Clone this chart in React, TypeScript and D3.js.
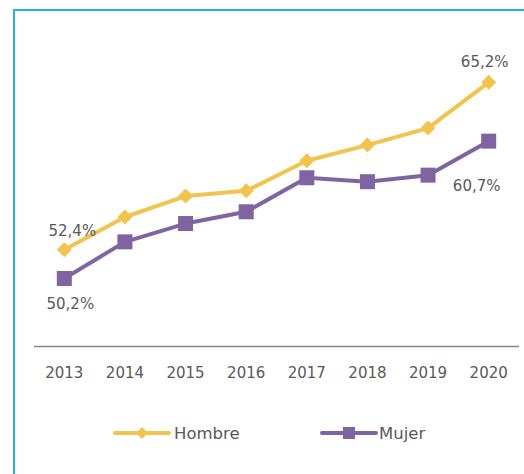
import React from "react";
import * as d3 from "d3";

const years = ["2013", "2014", "2015", "2016", "2017", "2018", "2019", "2020"];
const hombre = [52.4, 54.9, 56.5, 56.9, 59.2, 60.4, 61.7, 65.2];
const mujer = [50.2, 53.0, 54.4, 55.3, 57.9, 57.6, 58.1, 60.7];
const seriesNames = ["Hombre", "Mujer"];
const yDomain = [45, 70];

const W = 524;
const H = 474;
const YELLOW = "#F2C44E";
const PURPLE = "#8064A2";
const TEXT = "#595959";
const FONT = "'DejaVu Sans', sans-serif";

const fmt = (v: number) => v.toFixed(1).replace(".", ",") + "%";

export default function App() {
  const x = d3.scaleBand<string>().domain(years).range([34, 519]);
  const y = d3.scaleLinear().domain(yDomain).range([346.5, 19.5]);
  const cx = (yr: string) => (x(yr) as number) + x.bandwidth() / 2;

  const line = d3
    .line<number>()
    .x((_, i) => cx(years[i]))
    .y((d) => y(d));

  const diamond = (px: number, py: number, r: number) =>
    `M${px},${py - r}L${px + r},${py}L${px},${py + r}L${px - r},${py}Z`;

  const first = years[0];
  const last = years[years.length - 1];
  const n = years.length - 1;

  return (
    <svg
      width={W}
      height={H}
      style={{ position: "absolute", left: 0, top: 0, background: "#fff" }}
      fontFamily={FONT}
    >
      {/* frame */}
      <path d={`M14,${H}L14,10L${W},10`} fill="none" stroke="#1FB3EC" strokeWidth={2} />

      {/* axis */}
      <line x1={34} x2={519} y1={y(yDomain[0])} y2={y(yDomain[0])} stroke="#868686" strokeWidth={1.5} />
      {years.map((yr) => (
        <text key={yr} x={cx(yr)} y={378} textAnchor="middle" fontSize={15} fill={TEXT}>
          {yr}
        </text>
      ))}

      {/* lines */}
      <path d={line(hombre) || ""} fill="none" stroke={YELLOW} strokeWidth={4} strokeLinejoin="round" />
      <path d={line(mujer) || ""} fill="none" stroke={PURPLE} strokeWidth={4} strokeLinejoin="round" />

      {hombre.map((v, i) => (
        <path key={"h" + i} d={diamond(cx(years[i]), y(v), 7.5)} fill={YELLOW} />
      ))}
      {mujer.map((v, i) => (
        <rect key={"m" + i} x={cx(years[i]) - 7.5} y={y(v) - 7.5} width={15} height={15} fill={PURPLE} />
      ))}

      {/* data labels */}
      <text x={cx(first) + 8} y={y(hombre[0]) - 14} textAnchor="middle" fontSize={15} fill={TEXT}>
        {fmt(hombre[0])}
      </text>
      <text x={cx(first) + 6} y={y(mujer[0]) + 31} textAnchor="middle" fontSize={15} fill={TEXT}>
        {fmt(mujer[0])}
      </text>
      <text x={cx(last) - 4} y={y(hombre[n]) - 15} textAnchor="middle" fontSize={15} fill={TEXT}>
        {fmt(hombre[n])}
      </text>
      <text x={cx(last) - 12} y={y(mujer[n]) + 50} textAnchor="middle" fontSize={15} fill={TEXT}>
        {fmt(mujer[n])}
      </text>

      {/* legend */}
      <g>
        <line x1={115} x2={169} y1={433} y2={433} stroke={YELLOW} strokeWidth={4} strokeLinecap="round" />
        <path d={diamond(142, 433, 6)} fill={YELLOW} />
        <text x={174} y={439} fontSize={16.5} fill={TEXT}>
          {seriesNames[0]}
        </text>
        <line x1={322} x2={376} y1={433} y2={433} stroke={PURPLE} strokeWidth={4} strokeLinecap="round" />
        <rect x={343} y={427} width={12} height={12} fill={PURPLE} />
        <text x={379} y={439} fontSize={16.5} fill={TEXT}>
          {seriesNames[1]}
        </text>
      </g>
    </svg>
  );
}
